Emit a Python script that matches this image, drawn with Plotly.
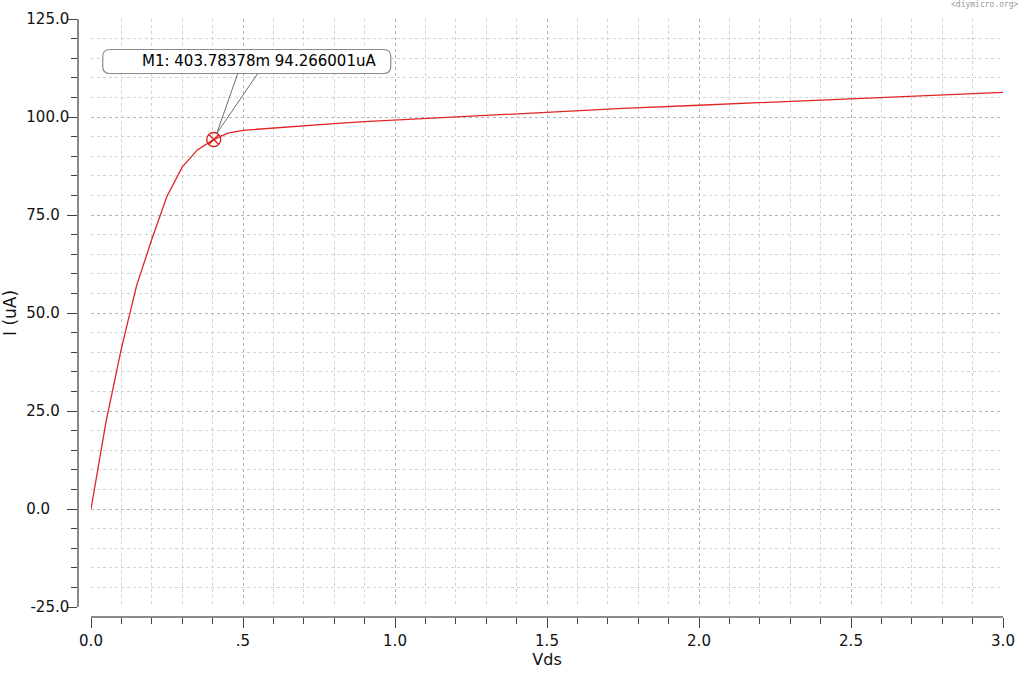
import plotly.graph_objects as go

# DC sweep: drain current vs drain-source voltage
vds = [0.0, 0.05, 0.1, 0.15, 0.2, 0.25, 0.3, 0.35, 0.4, 0.45, 0.5, 0.6, 0.7, 0.8, 0.9,
       1.0, 1.25, 1.5, 1.75, 2.0, 2.25, 2.5, 2.75, 3.0]
i_ua = [0.0, 22.5, 41.0, 57.0, 68.8, 79.8, 87.2, 91.6, 94.1, 95.9, 96.6, 97.2, 97.8, 98.3, 98.8,
        99.2, 100.3, 101.3, 102.2, 103.0, 103.8, 104.6, 105.4, 106.3]

# marker M1
m1_v = 0.40378378
m1_i = 94.266001

x_ticks = [0.0, 0.5, 1.0, 1.5, 2.0, 2.5, 3.0]
x_labels = ["0.0", ".5", "1.0", "1.5", "2.0", "2.5", "3.0"]
y_ticks = [-25, 0, 25, 50, 75, 100, 125]
y_labels = ["-25.0", "0.0", "25.0", "50.0", "75.0", "100.0", "125.0"]

FONT = "DejaVu Sans"
RED = "#e02424"


def left_align(lab, width=5):
    # invisible trailing digits so the right-aligned labels line up on the left
    n = 0 if lab.startswith("-") else width - len(lab)
    if n <= 0:
        return lab
    return lab + "<span style='color:rgba(0,0,0,0)'>" + "0" * n + "</span>"


y_text = [left_align(lab) for lab in y_labels]

fig = go.Figure()

fig.add_trace(
    go.Scatter(
        x=vds,
        y=i_ua,
        mode="lines",
        line=dict(color=RED, width=1.3),
        hoverinfo="skip",
        showlegend=False,
    )
)
fig.add_trace(
    go.Scatter(  # M1 marker
        x=[m1_v],
        y=[m1_i],
        mode="markers",
        marker=dict(symbol="circle-x-open", size=14, color=RED, line=dict(width=1.4, color=RED)),
        showlegend=False,
    )
)

# marker label box + callout, offsets in pixels from the marker point
box = dict(
    type="path",
    xref="x",
    yref="y",
    xsizemode="pixel",
    ysizemode="pixel",
    xanchor=m1_v,
    yanchor=m1_i,
    fillcolor="white",
    line=dict(color="#8a8a8a", width=1.2),
    layer="above",
)
fig.add_shape(
    path="M -104,90 L 170,90 Q 177,90 177,83 L 177,73 Q 177,66 170,66 "
    "L -104,66 Q -111,66 -111,73 L -111,83 Q -111,90 -104,90 Z",
    **box,
)
fig.add_shape(path="M 24,66 L 3,6 L 44,66", **{**box, "fillcolor": None, "line": dict(color="#6e6e6e", width=1)})

fig.add_annotation(
    x=m1_v,
    y=m1_i,
    xref="x",
    yref="y",
    text=f"M1: {m1_v * 1000:.5f}m {m1_i:.6f}uA",
    showarrow=False,
    xanchor="center",
    yanchor="middle",
    xshift=45,
    yshift=78,
    font=dict(family=FONT, size=15, color="black"),
)

fig.add_annotation(
    text="&lt;diymicro.org&gt;",
    xref="paper",
    yref="paper",
    x=1,
    y=1,
    xanchor="right",
    yanchor="middle",
    xshift=18,
    yshift=14.5,
    showarrow=False,
    font=dict(family="DejaVu Sans Mono", size=8, color="#9a9a9a"),
)

grid_major = dict(showgrid=True, gridcolor="#b4b4b4", griddash="dot", gridwidth=1)

fig.update_layout(
    width=1024,
    height=674,
    margin=dict(l=78, r=21, t=19, b=57, autoexpand=False),
    paper_bgcolor="white",
    plot_bgcolor="white",
    font=dict(family=FONT, size=15, color="#111"),
    showlegend=False,
    xaxis=dict(
        domain=[13 / 925, 1],
        anchor="free",
        position=0,
        automargin=False,
        range=[0, 3],
        tickmode="array",
        tickvals=x_ticks,
        ticktext=x_labels,
        ticks="outside",
        ticklen=10,
        tickwidth=1.2,
        tickcolor="#444",
        showline=True,
        linecolor="#8a8a8a",
        linewidth=1.5,
        zeroline=False,
        minor=dict(
            dtick=0.1,
            ticks="outside",
            ticklen=6,
            tickwidth=1.2,
            tickcolor="#444",
            showgrid=True,
            gridcolor="#d2d2d2",
            griddash="dot",
        ),
        title=dict(text="Vds", font=dict(family=FONT, size=16), standoff=4),
        **grid_major,
    ),
    yaxis=dict(
        domain=[10 / 598, 1],
        anchor="free",
        position=0,
        automargin=False,
        range=[-25, 125],
        tickmode="array",
        tickvals=y_ticks,
        ticktext=y_text,
        ticks="outside",
        ticklen=10,
        tickwidth=1.2,
        tickcolor="#444",
        ticklabelstandoff=-5,
        showline=True,
        linecolor="#8a8a8a",
        linewidth=1.5,
        zeroline=False,
        minor=dict(
            dtick=5,
            ticks="outside",
            ticklen=6,
            tickwidth=1.2,
            tickcolor="#444",
            showgrid=True,
            gridcolor="#d2d2d2",
            griddash="dot",
        ),
        title=dict(text="I (uA)", font=dict(family=FONT, size=17), standoff=8),
        **grid_major,
    ),
)

# drop the default body margin so the figure fills the window exactly
fig.write_html(
    "out.html",
    config={"displayModeBar": False},
    post_script="document.body.style.margin = '0';",
)
